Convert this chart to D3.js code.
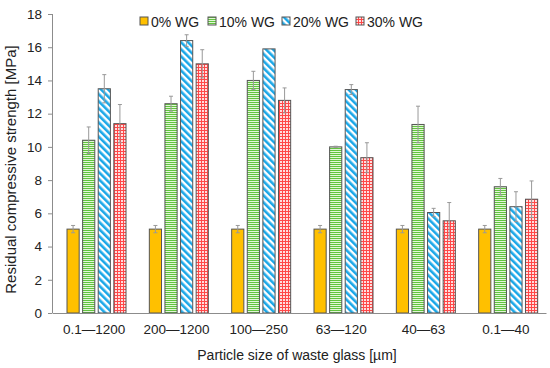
<!DOCTYPE html>
<html>
<head>
<meta charset="utf-8">
<script src="https://cdn.jsdelivr.net/npm/d3@7/dist/d3.min.js"></script>
<style>
body { margin: 0; background: #fff; }
text { font-family: Arial, "Liberation Sans", sans-serif; fill: #222; }
</style>
</head>
<body>
<script>
var width = 550,
	height = 368,
	margin = { top: 14, right: 4, bottom: 55, left: 52 };

// categories, series and values
var categories = ['0.1\u20141200', '200\u20141200', '100\u2014250', '63\u2014120', '40\u201463', '0.1\u201440'];
var series = ['0% WG', '10% WG', '20% WG', '30% WG'];
var wg0 = [5.05, 5.05, 5.05, 5.05, 5.05, 5.05];
var wg10 = [10.4, 12.6, 14.0, 10.0, 11.35, 7.6];
var wg20 = [13.5, 16.4, 15.9, 13.45, 6.05, 6.4];
var wg30 = [11.4, 15.0, 12.8, 9.35, 5.55, 6.85];
var err0 = [0.22, 0.22, 0.22, 0.22, 0.22, 0.22];
var err10 = [0.8, 0.45, 0.55, 0.04, 1.1, 0.5];
var err20 = [0.85, 0.35, 0.0, 0.3, 0.25, 0.9];
var err30 = [1.15, 0.85, 0.75, 0.9, 1.1, 1.1];
var yTicks = [0, 2, 4, 6, 8, 10, 12, 14, 16, 18];

var values = [wg0, wg10, wg20, wg30],
	errors = [err0, err10, err20, err30];

var svg = d3.select('body').append('svg')
	.attr('width', width)
	.attr('height', height);

// patterns for the bar fills
var defs = svg.append('defs');

var pGreen = defs.append('pattern').attr('id', 'p1')
	.attr('patternUnits', 'userSpaceOnUse').attr('width', 4).attr('height', 2);
pGreen.append('rect').attr('width', 4).attr('height', 2).attr('fill', '#e2f6d8');
pGreen.append('rect').attr('width', 4).attr('height', 1).attr('fill', '#62c43e');

var pBlue = defs.append('pattern').attr('id', 'p2')
	.attr('patternUnits', 'userSpaceOnUse').attr('width', 5).attr('height', 5)
	.attr('patternTransform', 'rotate(-45)');
pBlue.append('rect').attr('width', 5).attr('height', 5).attr('fill', '#ffffff');
pBlue.append('rect').attr('width', 2.6).attr('height', 5).attr('fill', '#1aa7e8');

var pRed = defs.append('pattern').attr('id', 'p3')
	.attr('patternUnits', 'userSpaceOnUse').attr('width', 3).attr('height', 3);
pRed.append('rect').attr('width', 3).attr('height', 3).attr('fill', '#ffdede');
pRed.append('rect').attr('x', 2).attr('width', 1).attr('height', 3).attr('fill', '#ff4848');
pRed.append('rect').attr('y', 2).attr('width', 3).attr('height', 1).attr('fill', '#ff4848');

var fills = ['#ffc000', 'url(#p1)', 'url(#p2)', 'url(#p3)'];

var w = width - margin.left - margin.right,
	h = height - margin.top - margin.bottom;

var xScale = d3.scaleBand().domain(categories).range([0, w]).padding(0);
var xInner = d3.scaleBand().domain(d3.range(series.length))
	.range([15, 74]).paddingInner(0.22);
var yScale = d3.scaleLinear().domain([0, 18]).range([h, 0]);

var g = svg.append('g')
	.attr('transform', 'translate(' + margin.left + ',' + margin.top + ')');

// y axis
var yAxis = g.append('g')
	.attr('class', 'axis axis--y')
	.call(d3.axisLeft(yScale).tickValues(yTicks).tickSize(4).tickPadding(6));
yAxis.selectAll('text').style('font-size', '13.5px').attr('fill', '#222');
yAxis.selectAll('line').attr('stroke', '#8c8c8c');
yAxis.select('.domain').attr('stroke', '#8c8c8c').attr('d', 'M0.5,' + h + 'V0');

// bars
var bars = [];
categories.forEach(function(c, i) {
	series.forEach(function(s, j) {
		bars.push({ cat: c, s: j, v: values[j][i], e: errors[j][i] });
	});
});

var groups = g.selectAll('.bar')
	.data(bars)
	.enter().append('g')
	.attr('class', 'bar');

groups.append('rect')
	.attr('x', function(d) { return xScale(d.cat) + xInner(d.s); })
	.attr('y', function(d) { return yScale(d.v); })
	.attr('width', xInner.bandwidth())
	.attr('height', function(d) { return h - yScale(d.v); })
	.attr('fill', function(d) { return fills[d.s]; })
	.attr('stroke', '#555')
	.attr('stroke-width', 1);

// error bars
var eb = groups.filter(function(d) { return d.e > 0; }).append('g')
	.attr('stroke', '#999')
	.attr('stroke-width', 1);
function cx(d) { return xScale(d.cat) + xInner(d.s) + xInner.bandwidth() / 2; }
eb.append('line')
	.attr('x1', cx).attr('x2', cx)
	.attr('y1', function(d) { return yScale(d.v + d.e); })
	.attr('y2', function(d) { return yScale(d.v - d.e); });
eb.append('line')
	.attr('x1', function(d) { return cx(d) - 2; }).attr('x2', function(d) { return cx(d) + 2; })
	.attr('y1', function(d) { return yScale(d.v + d.e); })
	.attr('y2', function(d) { return yScale(d.v + d.e); });
eb.append('line')
	.attr('x1', function(d) { return cx(d) - 2; }).attr('x2', function(d) { return cx(d) + 2; })
	.attr('y1', function(d) { return yScale(d.v - d.e); })
	.attr('y2', function(d) { return yScale(d.v - d.e); });

// x axis
var xAxis = g.append('g')
	.attr('class', 'axis axis--x')
	.attr('transform', 'translate(0,' + h + ')')
	.call(d3.axisBottom(xScale).tickSize(0).tickPadding(11));
xAxis.selectAll('text').style('font-size', '13.5px').attr('fill', '#222')
	.attr('dx', '1px');
xAxis.select('.domain').attr('stroke', '#8c8c8c');

// axis titles
g.append('text')
	.attr('x', w / 2 - 2)
	.attr('y', h + 47)
	.attr('text-anchor', 'middle')
	.style('font-size', '14px')
	.text('Particle size of waste glass [\u00b5m]');

g.append('text')
	.attr('transform', 'rotate(-90)')
	.attr('x', -h / 2 - 6)
	.attr('y', -36)
	.attr('text-anchor', 'middle')
	.style('font-size', '15px')
	.text('Residual compressive strength [MPa]');

// legend
var legendX = [140, 208, 282, 356];
var legend = svg.append('g').attr('class', 'legend')
	.selectAll('g')
	.data(series)
	.enter().append('g')
	.attr('transform', function(d, i) { return 'translate(' + legendX[i] + ',17)'; });
legend.append('rect')
	.attr('width', 8).attr('height', 8)
	.attr('fill', function(d, i) { return fills[i]; })
	.attr('stroke', '#555');
legend.append('text')
	.attr('x', 11).attr('y', 9.5)
	.style('font-size', '14px')
	.text(function(d) { return d; });
</script>
</body>
</html>
